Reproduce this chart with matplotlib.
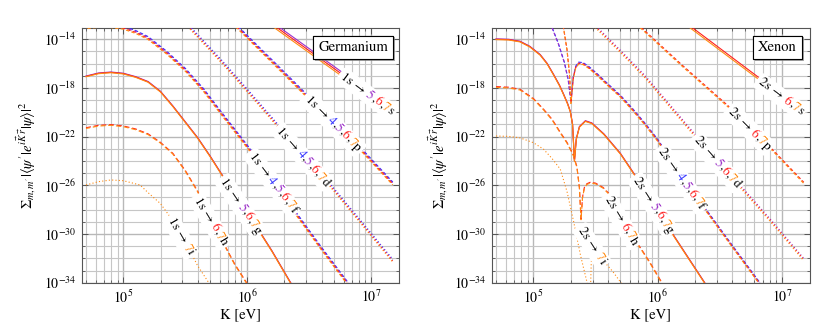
import numpy as np
import matplotlib
matplotlib.use('Agg')
import matplotlib.pyplot as plt
from matplotlib.ticker import NullFormatter
from matplotlib.transforms import IdentityTransform
import matplotlib.patheffects as pe

plt.rcParams['font.family'] = ['STIXGeneral', 'DejaVu Sans']
plt.rcParams['mathtext.fontset'] = 'stix'

# colour of the final shell n (lines and label digits)
n_color = {4: '#3030ff', 5: '#9b30c8', 6: '#ff1e1e', 7: '#ff8a10'}

# all values are log10: K [eV] and sum_{m,m'} |<psi'|e^{iK.r}|psi>|^2
# ---------------- Germanium, 1s -> n l
ge_s_k = [6.0, 6.242, 6.808, 7.176]
ge_s_v = [-11.28, -13.05, -17.18, -19.87]
ge_s_n = [5, 6, 7]
ge_s_dv = [0.17, 0.0, -0.17]

ge_p_k = [5.7, 5.928, 6.2, 6.471, 6.7, 6.93, 7.176]
ge_p_v = [-10.9, -13.07, -15.8, -18.54, -20.85, -23.17, -25.85]
ge_p_n = [4, 5, 6, 7]
ge_p_dv = [0.12, 0.04, -0.04, -0.12]

ge_d_k = [5.35, 5.54, 5.8, 6.0, 6.171, 6.457, 6.673, 6.9, 7.176]
ge_d_v = [-11.0, -13.07, -15.9, -18.2, -20.2, -23.57, -26.03, -28.8, -32.2]
ge_d_n = [4, 5, 6, 7]
ge_d_dv = [0.12, 0.04, -0.04, -0.12]

ge_f_k = [4.699, 4.85, 5.0, 5.1, 5.2, 5.35, 5.5, 5.65, 5.8, 6.0, 6.2, 6.4, 6.6, 6.8, 6.9]
ge_f_v = [-13.0, -12.85, -13.05, -13.4, -13.9, -15.1, -16.5, -18.2, -20.2, -22.8,
          -25.5, -28.4, -31.2, -33.9, -35.3]
ge_f_n = [4, 5, 6, 7]
ge_f_dv = [0.12, 0.04, -0.04, -0.12]

ge_g_k = [4.699, 4.8, 4.9, 5.0, 5.1, 5.2, 5.3, 5.4, 5.5, 5.6, 5.7, 5.8, 6.0, 6.1, 6.2, 6.35, 6.4]
ge_g_v = [-17.05, -16.8, -16.72, -16.82, -17.1, -17.5, -18.3, -19.5, -20.8, -22.1,
          -23.6, -25.2, -28.3, -29.8, -31.4, -34.0, -34.8]
ge_g_n = [5, 6, 7]
ge_g_dv = [0.03, 0.0, -0.03]

ge_h_k = [4.699, 4.8, 4.9, 5.0, 5.1, 5.2, 5.3, 5.4, 5.5, 5.6, 5.7, 5.8, 5.9, 6.0, 6.05]
ge_h_v = [-21.3, -21.1, -21.04, -21.15, -21.4, -21.8, -22.5, -23.4, -24.8, -26.5,
          -28.6, -30.6, -32.5, -34.1, -35.0]
ge_h_n = [6, 7]
ge_h_dv = [0.03, -0.03]

ge_i_k = [4.699, 4.8, 4.9, 5.0, 5.135, 5.2, 5.3, 5.4, 5.5, 5.6, 5.69, 5.75]
ge_i_v = [-25.97, -25.7, -25.56, -25.62, -25.97, -26.6, -27.5, -28.9, -30.6, -32.6, -34.0, -35.0]
ge_i_n = [7]
ge_i_dv = [0.0]

# label centres (log10 K) and angles, order s p d f g h i
ge_label_k = [6.976, 6.70, 6.457, 6.215, 5.958, 5.715, 5.472]
ge_label_angle = [-37, -45, -49, -53, -56, -59, -60]

# ---------------- Xenon, 2s -> n l
xe_s_k = [6.0, 6.269, 6.808, 7.176]
xe_s_v = [-10.99, -13.05, -17.18, -20.0]
xe_s_n = [6, 7]
xe_s_dv = [0.08, -0.08]

xe_p_k = [5.7, 5.864, 6.2, 6.565, 6.746, 6.93, 7.176]
xe_p_v = [-11.55, -13.05, -16.2, -19.5, -21.3, -23.17, -25.8]
xe_p_n = [6, 7]
xe_p_dv = [0.05, -0.05]

xe_d_k = [5.35, 5.513, 5.7, 5.9, 6.1, 6.3, 6.5, 6.7, 6.9, 7.176]
xe_d_v = [-11.5, -13.1, -15.0, -17.1, -19.5, -21.9, -24.2, -26.5, -28.8, -32.1]
xe_d_n = [5, 6, 7]
xe_d_dv = [0.1, 0.0, -0.1]

xe_f_lobe_a_k = [5.08, 5.148, 5.2, 5.25, 5.28, 5.302]
xe_f_lobe_a_v = [-11.5, -13.05, -14.4, -16.0, -17.4, -19.2]
xe_f_lobe_b_k = [5.2, 5.243, 5.27, 5.29, 5.302]
xe_f_lobe_b_v = [-11.8, -13.05, -14.8, -16.8, -19.2]
xe_f_tail_k = [5.32, 5.34, 5.364, 5.4, 5.45, 5.513, 5.6, 5.702, 5.8, 5.9, 6.0,
               6.2, 6.4, 6.6, 6.81, 6.9]
xe_f_tail_v = [-17.2, -16.3, -15.96, -16.0, -16.35, -16.91, -17.75, -18.7, -19.8,
               -21.0, -22.3, -25.4, -28.2, -31.0, -33.9, -35.2]
xe_f_n = [4, 5, 6, 7]
xe_f_lobe = ['a', 'a', 'b', 'b']
xe_f_dv = [0.08, 0.03, -0.03, -0.08]

xe_g_k = [4.699, 4.8, 4.892, 4.97, 5.054, 5.11, 5.162, 5.21, 5.243, 5.275, 5.297, 5.315,
          5.33, 5.345, 5.37, 5.418, 5.47, 5.567, 5.7, 5.837, 6.0, 6.134, 6.377, 6.4]
xe_g_v = [-14.0, -14.03, -14.19, -14.6, -15.28, -16.0, -16.91, -17.8, -18.54, -19.3,
          -19.95, -21.0, -24.0, -22.2, -21.2, -20.72, -20.9, -21.8, -23.4, -25.48,
          -28.0, -30.22, -34.0, -34.4]
xe_g_n = [5, 6, 7]
xe_g_dv = [0.03, 0.0, -0.03]

xe_h_k = [4.699, 4.8, 4.892, 5.0, 5.081, 5.15, 5.216, 5.27, 5.32, 5.35, 5.37, 5.383,
          5.395, 5.41, 5.43, 5.459, 5.5, 5.56, 5.621, 5.7, 5.78, 5.864, 5.94, 6.012, 6.05]
xe_h_v = [-17.92, -17.97, -18.14, -18.9, -19.77, -20.6, -21.67, -22.5, -23.5, -24.5,
          -26.2, -28.8, -27.0, -26.2, -25.9, -25.77, -25.85, -26.2, -26.84, -28.6,
          -30.0, -31.2, -32.4, -33.65, -34.3]
xe_h_n = [6, 7]
xe_h_dv = [0.03, -0.03]

xe_i_k = [4.699, 4.8, 4.892, 5.0, 5.081, 5.15, 5.216, 5.27, 5.324, 5.38, 5.432, 5.45,
          5.455, 5.465, 5.475, 5.5, 5.53, 5.58, 5.64, 5.69, 5.75]
xe_i_v = [-21.95, -21.98, -22.1, -22.5, -23.03, -23.8, -24.67, -26.5, -29.0, -31.8,
          -34.0, -36.0, -36.0, -32.5, -31.0, -30.5, -30.8, -32.4, -33.1, -33.8, -34.6]
xe_i_n = [7]
xe_i_dv = [0.0]

xe_label_k = [6.997, 6.746, 6.485, 6.20, 5.972, 5.715, 5.48]
xe_label_angle = [-37, -45, -49, -55, -57, -59, -57]

y_major = [-14, -18, -22, -26, -30, -34]

# line style per orbital letter: (dash pattern, offset step between shells)
styles = {'s': (None, 0), 'p': ((3, 2), 1.2), 'd': ((1, 2), 0.75), 'f': ((3, 2), 1.2),
          'g': (None, 0), 'h': ((4.5, 2.5), 0.8), 'i': ((1, 2), 0)}

fig = plt.figure(figsize=(8.3, 3.34), dpi=100)
ax_ge = fig.add_axes([0.0984, 0.1536, 0.3823, 0.7635])
ax_xe = fig.add_axes([0.5924, 0.1536, 0.3835, 0.7635])
renderer = fig.canvas.get_renderer()


def setup(ax):
    ax.set_xscale('log')
    ax.set_yscale('log')
    ax.set_xticks([1e5, 1e6, 1e7])
    ax.set_xticks([m * 10.0 ** e for e in (4, 5, 6, 7) for m in range(2, 10)
                   if 10 ** 4.664 < m * 10.0 ** e < 10 ** 7.226], minor=True)
    ax.set_yticks([10.0 ** e for e in y_major])
    ax.set_yticks([10.0 ** e for e in range(-33, -13) if e not in y_major], minor=True)
    ax.set_xlim(10 ** 4.664, 10 ** 7.226)
    ax.set_ylim(1e-34, 10 ** -13.05)
    ax.xaxis.set_minor_formatter(NullFormatter())
    ax.yaxis.set_minor_formatter(NullFormatter())
    ax.grid(which='major', color='#b8b8b8', lw=1.0)
    ax.grid(which='minor', color='#c6c6c6', lw=0.8)
    ax.tick_params(which='both', direction='in', top=True, right=True, labelsize=10,
                   color='#555555')
    ax.tick_params(which='major', length=4, width=0.7, pad=4)
    ax.tick_params(which='minor', length=2, width=0.6)
    for sp in ax.spines.values():
        sp.set_color('#555555')
        sp.set_linewidth(0.8)
    ax.set_xlabel('K [eV]', fontsize=10.5)
    ax.xaxis.set_label_coords(0.5, -0.1)
    ax.set_ylabel(r'$\Sigma_{m,m^{\prime}}|\langle\psi^{\prime}|e^{i\vec{K}\,\vec{r}}|\psi\rangle|^2$',
                  fontsize=10.5)


def draw_group(ax, letter, ks, vs, ns, dvs):
    pattern, step = styles[letter]
    for j, (ki, vi, n, dv) in enumerate(zip(ks, vs, ns, dvs)):
        x = 10 ** np.asarray(ki)
        y = 10 ** (np.asarray(vi) + dv)
        if pattern is None:
            ax.plot(x, y, color=n_color[n], lw=0.8, zorder=3)
        else:
            ax.plot(x, y, color=n_color[n], lw=0.8, zorder=3,
                    linestyle=(j * step, pattern))


def text_width(s, fs):
    # advance width of s, measured between two sentinels
    t = fig.text(0, 0, '|' + s + '|', fontsize=fs)
    w = t.get_window_extent(renderer).width
    t.set_text('||')
    w -= t.get_window_extent(renderer).width
    t.remove()
    return w


def curve_label(ax, k, v, angle, pieces, fs=9.5):
    x0, y0 = ax.transData.transform((10 ** k, 10 ** v))
    a = np.radians(angle)
    u = np.array([np.cos(a), np.sin(a)])
    full = ''.join(s for s, c in pieces)
    total = text_width(full, fs)
    ax.text(x0, y0, full, transform=IdentityTransform(), fontsize=fs, color='white',
            rotation=angle, rotation_mode='anchor', ha='center', va='center_baseline',
            bbox=dict(boxstyle='round,pad=0.22', fc='white', ec='none'), zorder=5)
    start = np.array([x0, y0]) - u * total / 2
    done = ''
    for s, c in pieces:
        p = start + u * text_width(done, fs)
        ax.text(p[0], p[1], s, transform=IdentityTransform(), fontsize=fs, color=c,
                rotation=angle, rotation_mode='anchor', ha='left', va='center_baseline',
                zorder=6)
        done += s


def label_pieces(initial, ns, letter):
    pieces = [(initial + ' \u2192 ', 'black')]
    for j, n in enumerate(ns):
        if j:
            pieces.append((',', 'black'))
        pieces.append((str(n), n_color[n]))
    pieces.append((letter, 'black'))
    return pieces


def name_box(ax, name, x, y):
    t = ax.text(x, y, name, transform=ax.transAxes, ha='center', va='center', fontsize=10.5,
                bbox=dict(boxstyle='square,pad=0.35', fc='white', ec='black', lw=0.8),
                zorder=7)
    t.get_bbox_patch().set_path_effects([pe.withSimplePatchShadow(offset=(1.2, -1.2),
                                                                  shadow_rgbFace='#888888',
                                                                  alpha=0.7), pe.Normal()])


# ---------- Germanium
setup(ax_ge)
ax_ge.yaxis.set_label_coords(-0.138, 0.5)
ge_groups = [('s', ge_s_k, ge_s_v, ge_s_n, ge_s_dv), ('p', ge_p_k, ge_p_v, ge_p_n, ge_p_dv),
             ('d', ge_d_k, ge_d_v, ge_d_n, ge_d_dv), ('f', ge_f_k, ge_f_v, ge_f_n, ge_f_dv),
             ('g', ge_g_k, ge_g_v, ge_g_n, ge_g_dv), ('h', ge_h_k, ge_h_v, ge_h_n, ge_h_dv),
             ('i', ge_i_k, ge_i_v, ge_i_n, ge_i_dv)]
for (letter, k, v, ns, dv), lk, la in zip(ge_groups, ge_label_k, ge_label_angle):
    draw_group(ax_ge, letter, [k] * len(ns), [v] * len(ns), ns, dv)
    curve_label(ax_ge, lk, np.interp(lk, k, v), la, label_pieces('1s', ns, letter))
name_box(ax_ge, 'Germanium', 0.855, 0.922)

# ---------- Xenon
setup(ax_xe)
ax_xe.yaxis.set_label_coords(-0.131, 0.5)
xe_f_k = {'a': xe_f_lobe_a_k + xe_f_tail_k, 'b': xe_f_lobe_b_k + xe_f_tail_k}
xe_f_v = {'a': xe_f_lobe_a_v + xe_f_tail_v, 'b': xe_f_lobe_b_v + xe_f_tail_v}
xe_groups = [('s', [xe_s_k] * 2, [xe_s_v] * 2, xe_s_n, xe_s_dv),
             ('p', [xe_p_k] * 2, [xe_p_v] * 2, xe_p_n, xe_p_dv),
             ('d', [xe_d_k] * 3, [xe_d_v] * 3, xe_d_n, xe_d_dv),
             ('f', [xe_f_k[l] for l in xe_f_lobe], [xe_f_v[l] for l in xe_f_lobe], xe_f_n, xe_f_dv),
             ('g', [xe_g_k] * 3, [xe_g_v] * 3, xe_g_n, xe_g_dv),
             ('h', [xe_h_k] * 2, [xe_h_v] * 2, xe_h_n, xe_h_dv),
             ('i', [xe_i_k], [xe_i_v], xe_i_n, xe_i_dv)]
for (letter, ks, vs, ns, dv), lk, la in zip(xe_groups, xe_label_k, xe_label_angle):
    draw_group(ax_xe, letter, ks, vs, ns, dv)
    kk, vv = (xe_f_tail_k, xe_f_tail_v) if letter == 'f' else (ks[0], vs[0])
    curve_label(ax_xe, lk, np.interp(lk, kk, vv), la, label_pieces('2s', ns, letter))
name_box(ax_xe, 'Xenon', 0.898, 0.922)

fig.savefig('out.png', dpi=100)
